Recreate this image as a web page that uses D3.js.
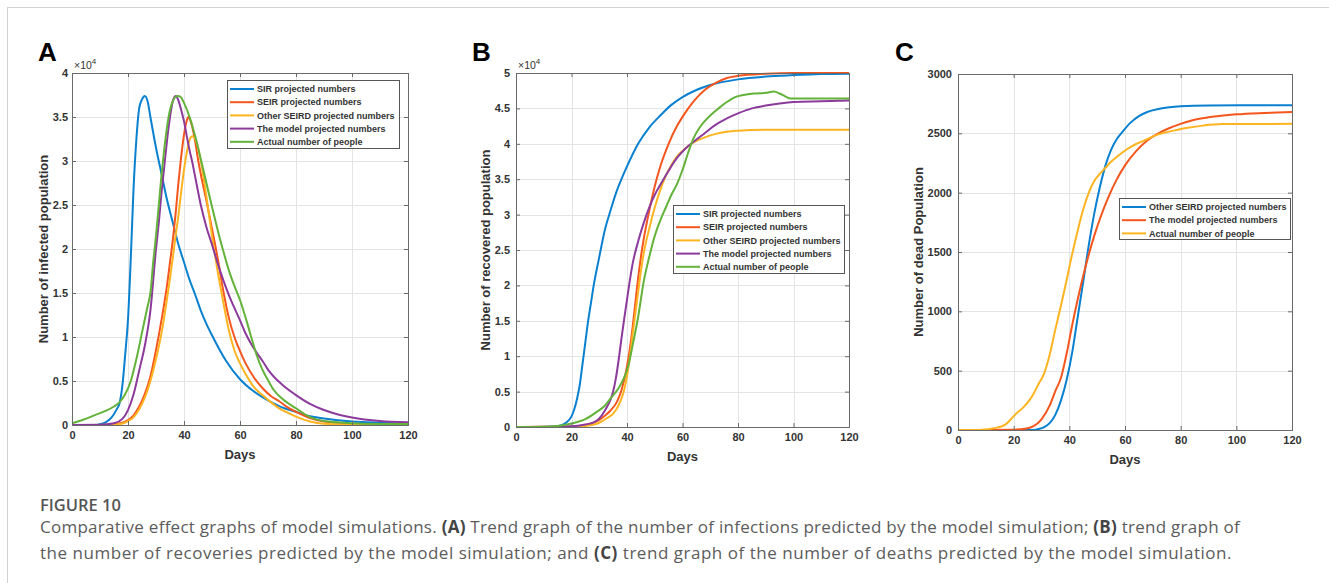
<!DOCTYPE html>
<html>
<head>
<meta charset="utf-8">
<script src="https://cdn.jsdelivr.net/npm/d3@7"></script>
<style>
  body { margin: 0; background: #fff; }
  svg { display: block; }
  .tick-label { font-family: "Liberation Sans", Arial, sans-serif; font-weight: bold; font-size: 11px; fill: #333; }
  .axis-title { font-family: "Liberation Sans", Arial, sans-serif; font-weight: bold; font-size: 13px; fill: #333; }
  .legend-text { font-family: "Liberation Sans", Arial, sans-serif; font-weight: bold; font-size: 9px; fill: #333; }
  .panel-label { font-family: "Liberation Sans", Arial, sans-serif; font-weight: bold; font-size: 26px; fill: #000; }
  .caption { font-family: "Open Sans", sans-serif; font-size: 17px; fill: #5c5c5c; }
</style>
</head>
<body>
<div id="chart"></div>
<script>
// ---- data: [day, people] ----
const days = [0, 20, 40, 60, 80, 100, 120];

// A: infected population
const aSIR = [[0,0],[8,0],[10,100],[12,300],[14,800],[16,1800],[17,2500],[18,4500],[19,8000],[20,12000],[21,19000],[22,27000],[23,32500],[24,36000],[25,37000],[26,37400],[27,36800],[28,35000],[30,31500],[32,28500],[34,25500],[36,23000],[38,20500],[40,18500],[42,16500],[44,14800],[46,13000],[48,11500],[50,10200],[55,7300],[60,5200],[65,3800],[70,2800],[75,2000],[80,1500],[85,1000],[90,750],[100,400],[110,250],[120,150]];
const aSEIR = [[0,0],[10,10],[15,80],[18,250],[20,550],[22,1100],[24,2100],[26,3500],[28,5500],[30,8500],[32,12000],[34,16000],[35,18500],[36,21000],[37,24000],[38,27500],[39,30500],[40,33000],[41,34600],[41.5,35000],[42,34800],[43,33800],[44,32200],[45,30200],[46,28500],[48,25500],[50,22300],[52,19000],[54,15300],[56,12200],[58,10000],[60,8400],[62,7000],[65,5400],[68,4200],[71,3300],[74,2700],[77,2000],[80,1500],[85,800],[90,400],[100,150],[110,60],[120,40]];
const aOther = [[0,0],[10,5],[15,50],[18,180],[20,450],[22,900],[24,1800],[26,3100],[28,5000],[30,7500],[32,10500],[34,14500],[36,19000],[37,21500],[38,23800],[39,26500],[40,29000],[41,31000],[42,32400],[43,32800],[44,32500],[45,31500],[46,30000],[48,26000],[50,21500],[52,17500],[54,14000],[56,10800],[58,8500],[60,7000],[62,5800],[65,4300],[68,3400],[71,2600],[74,1900],[77,1400],[80,950],[85,400],[90,150],[100,60],[120,20]];
const aModel = [[0,0],[10,20],[15,200],[18,700],[20,1700],[22,3500],[24,6200],[26,9000],[28,13000],[30,20000],[31,23000],[32,26500],[33,29500],[34,32500],[35,35000],[36,36800],[37,37400],[38,36900],[39,35800],[40,34500],[41,32800],[42,31200],[43,29800],[44,28200],[46,25000],[48,22500],[50,20500],[52,18400],[54,16500],[56,14800],[58,13300],[60,11900],[62,10400],[64,9200],[66,8200],[68,7300],[70,6300],[75,4600],[80,3400],[85,2400],[90,1700],[95,1200],[100,850],[110,450],[120,300]];
const aActual = [[0,200],[4,600],[8,1100],[12,1600],[15,2100],[17,2600],[19,3500],[21,5000],[23,7500],[25,10500],[27,13500],[28,15000],[29,18500],[30,21500],[31,25000],[32,28500],[33,31500],[34,34000],[35,35800],[36,36800],[37,37300],[38,37400],[39,37200],[40,36600],[42,35000],[44,32800],[46,30200],[48,27500],[50,24800],[52,22200],[54,19800],[56,17600],[58,15800],[60,14200],[62,12200],[64,10000],[66,7900],[68,6300],[70,5100],[72,4000],[75,3000],[80,1900],[85,900],[90,450],[100,200],[110,120],[120,100]];

// B: recovered population
const bSIR = [[0,0],[10,0],[15,100],[18,600],[20,1500],[21,2500],[22,4000],[23,6000],[24,9000],[25,12000],[26,15000],[27,17500],[28,20000],[30,24000],[32,27800],[34,30500],[36,33000],[38,35000],[40,36800],[44,40000],[48,42300],[52,44000],[56,45500],[60,46600],[65,47600],[70,48300],[80,49100],[90,49500],[100,49700],[110,49850],[120,49900]];
const bSEIR = [[0,0],[20,50],[25,300],[30,1000],[32,1600],[34,2300],[36,3300],[37,4100],[38,5200],[39,6700],[40,8600],[41,11000],[42,14000],[43,17500],[44,21000],[45,24000],[46,26500],[48,30500],[50,34000],[52,36800],[55,40000],[58,42500],[60,43800],[64,46000],[68,47600],[72,48600],[76,49300],[80,49600],[90,49900],[100,50000],[120,50000]];
const bOther = [[0,0],[20,20],[25,150],[30,600],[33,1300],[35,1900],[36,2400],[37,3100],[38,4000],[39,5300],[40,7200],[41,9800],[42,13000],[43,16000],[44,19000],[45,22000],[46,24500],[48,28000],[50,31000],[52,33500],[54,35500],[56,37000],[58,38200],[60,39000],[64,40200],[68,40900],[72,41400],[76,41700],[80,41850],[90,42000],[120,42000]];
const bModel = [[0,0],[20,100],[25,350],[28,650],[30,1200],[32,2300],[33,3000],[34,3800],[35,5000],[36,6900],[37,9500],[38,12500],[39,15300],[40,18000],[42,23000],[44,26200],[46,28800],[48,31000],[50,32800],[52,34200],[55,36200],[58,38000],[61,39300],[64,40300],[68,41500],[72,42700],[76,43600],[80,44300],[85,45000],[90,45400],[95,45700],[100,45900],[110,46000],[120,46100]];
const bActual = [[0,0],[10,50],[15,150],[20,500],[25,1100],[29,2100],[32,3000],[34,4000],[37,5500],[39,7000],[40.5,8700],[42,11500],[44,15500],[46,20500],[48,24000],[50,27000],[52,29200],[54,31000],[56,32800],[58,34300],[60,36300],[62,38700],[64,40800],[66,42200],[68,43200],[70,44000],[73,45000],[76,45900],[79,46600],[82,46900],[86,47100],[90,47200],[93,47400],[95,47100],[97,46700],[99,46400],[101,46400],[110,46400],[120,46400]];

// C: dead population
const cOther = [[0,0],[27,0],[29,8],[31,25],[33,60],[35,130],[37,250],[39,420],[41,650],[43,950],[45,1250],[47,1560],[49,1830],[51,2050],[53,2230],[55,2360],[57,2450],[59,2510],[62,2590],[65,2645],[68,2680],[72,2705],[76,2720],[80,2728],[90,2735],[120,2737]];
const cModel = [[0,0],[20,3],[24,10],[27,30],[30,90],[33,210],[35,330],[37,440],[39,640],[41,880],[43,1100],[45,1300],[47,1480],[49,1640],[51,1780],[54,1960],[57,2110],[60,2230],[64,2350],[68,2440],[72,2500],[76,2545],[80,2580],[85,2615],[90,2635],[100,2660],[110,2672],[120,2680]];
const cActual = [[0,0],[8,0],[10,5],[14,20],[17,45],[19,90],[21,140],[23,180],[25,230],[27,300],[29,390],[31,480],[33,640],[35,850],[37,1050],[39,1260],[41,1480],[43,1680],[45,1860],[47,2000],[49,2100],[51,2160],[53,2210],[55,2260],[58,2320],[61,2370],[64,2410],[67,2440],[70,2475],[74,2505],[78,2525],[82,2545],[88,2565],[95,2578],[120,2580]];

const names = {
  sir: "SIR projected numbers",
  seir: "SEIR projected numbers",
  other: "Other SEIRD projected numbers",
  model: "The model projected numbers",
  actual: "Actual number of people"
};
const colors = { blue: "#0a80d0", red: "#f4561e", yellow: "#fdb420", purple: "#8c3a9c", green: "#63b23a" };

const W = 1329, H = 583;
const svg = d3.select("#chart").append("svg").attr("width", W).attr("height", H);

// page frame
svg.append("line").attr("x1", 7).attr("x2", W).attr("y1", 7.5).attr("y2", 7.5).attr("stroke", "#d2d2d2");
svg.append("line").attr("x1", 7.5).attr("x2", 7.5).attr("y1", 7).attr("y2", H).attr("stroke", "#d2d2d2");

const panels = [
  {
    label: "A", lx: 38, left: 72, right: 408, top: 73, bottom: 425, ypad: 4,
    ymax: 40000, ystep: 5000, scale: 1e4, ylabel: "Number of infected population", ylx: 43,
    series: [
      { name: names.sir, color: colors.blue, data: aSIR },
      { name: names.seir, color: colors.red, data: aSEIR },
      { name: names.other, color: colors.yellow, data: aOther },
      { name: names.model, color: colors.purple, data: aModel },
      { name: names.actual, color: colors.green, data: aActual }
    ],
    legend: { x: 227, y: 80, w: 172, h: 68 }
  },
  {
    label: "B", lx: 472, left: 516, right: 849, top: 73, bottom: 427, ypad: 6,
    ymax: 50000, ystep: 5000, scale: 1e4, ylabel: "Number of recovered population", ylx: 485,
    series: [
      { name: names.sir, color: colors.blue, data: bSIR },
      { name: names.seir, color: colors.red, data: bSEIR },
      { name: names.other, color: colors.yellow, data: bOther },
      { name: names.model, color: colors.purple, data: bModel },
      { name: names.actual, color: colors.green, data: bActual }
    ],
    legend: { x: 673, y: 205, w: 171, h: 68 }
  },
  {
    label: "C", lx: 895, left: 958, right: 1292, top: 74, bottom: 430, ypad: 6,
    ymax: 3000, ystep: 500, scale: 1, ylabel: "Number of dead Population", ylx: 918,
    series: [
      { name: names.other, color: colors.blue, data: cOther },
      { name: names.model, color: colors.red, data: cModel },
      { name: names.actual, color: colors.yellow, data: cActual }
    ],
    legend: { x: 1119, y: 198, w: 171, h: 41 }
  }
];

panels.forEach((p) => {
  const x = d3.scaleLinear().domain([0, 120]).range([p.left, p.right]);
  const y = d3.scaleLinear().domain([0, p.ymax]).range([p.bottom, p.top]);
  const yTicks = d3.range(0, p.ymax + 1, p.ystep);
  const g = svg.append("g");

  // grid
  g.selectAll(".gx").data(days).enter().append("line")
    .attr("x1", (d) => Math.round(x(d)) + 0.5).attr("x2", (d) => Math.round(x(d)) + 0.5)
    .attr("y1", p.top).attr("y2", p.bottom)
    .attr("stroke", "#e4e4e4");
  g.selectAll(".gy").data(yTicks).enter().append("line")
    .attr("y1", (d) => Math.round(y(d)) + 0.5).attr("y2", (d) => Math.round(y(d)) + 0.5)
    .attr("x1", p.left).attr("x2", p.right)
    .attr("stroke", "#e4e4e4");

  // lines
  const line = d3.line()
    .x((d) => x(d[0]))
    .y((d) => y(d[1]))
    .curve(d3.curveMonotoneX);
  p.series.forEach((s) => {
    g.append("path").datum(s.data)
      .attr("fill", "none").attr("stroke", s.color)
      .attr("stroke-width", 2).attr("stroke-linejoin", "round")
      .attr("d", line);
  });

  // axes (matlab-like box, ticks inside on all four sides)
  const fmt = (d) => String(+(d / p.scale).toFixed(2));
  const axB = g.append("g").attr("transform", `translate(0,${p.bottom})`)
    .call(d3.axisBottom(x).tickValues(days).tickSize(-4).tickPadding(6).tickFormat(d3.format("d")));
  const axT = g.append("g").attr("transform", `translate(0,${p.top})`)
    .call(d3.axisTop(x).tickValues(days).tickSize(-4).tickFormat(""));
  const axL = g.append("g").attr("transform", `translate(${p.left},0)`)
    .call(d3.axisLeft(y).tickValues(yTicks).tickSize(-4).tickPadding(p.ypad).tickFormat(fmt));
  const axR = g.append("g").attr("transform", `translate(${p.right},0)`)
    .call(d3.axisRight(y).tickValues(yTicks).tickSize(-4).tickFormat(""));
  [axB, axT, axL, axR].forEach((a) => {
    a.select(".domain").attr("stroke", "#6a6a6a");
    a.selectAll(".tick line").attr("stroke", "#6a6a6a");
    a.selectAll(".tick text").attr("class", "tick-label").attr("fill", null);
  });

  // exponent label
  if (p.scale !== 1) {
    const t = g.append("text").attr("class", "legend-text").attr("x", p.left + 2).attr("y", p.top - 4)
      .style("font-weight", "normal").style("font-size", "10.5px");
    t.append("tspan").text("\u00d710");
    t.append("tspan").attr("dy", -5).style("font-size", "8px").text("4");
  }

  // axis titles
  g.append("text").attr("class", "axis-title")
    .attr("x", (p.left + p.right) / 2).attr("y", p.bottom + 34)
    .attr("text-anchor", "middle").text("Days");
  g.append("text").attr("class", "axis-title")
    .attr("transform", `translate(${p.ylx},${(p.top + p.bottom) / 2}) rotate(-90)`)
    .attr("text-anchor", "middle").attr("dy", "0.35em").text(p.ylabel);

  // panel letter
  svg.append("text").attr("class", "panel-label").attr("x", p.lx).attr("y", 61).text(p.label);

  // legend
  const L = p.legend;
  const lg = g.append("g").attr("transform", `translate(${L.x},${L.y})`);
  lg.append("rect").attr("x", 0.5).attr("y", 0.5).attr("width", L.w).attr("height", L.h)
    .attr("fill", "#fff").attr("stroke", "#555");
  p.series.forEach((s, i) => {
    const yy = 9 + i * 13.2;
    lg.append("line").attr("x1", 3).attr("x2", 27).attr("y1", yy).attr("y2", yy)
      .attr("stroke", s.color).attr("stroke-width", 2);
    lg.append("text").attr("class", "legend-text").attr("x", 30).attr("y", yy).attr("dy", "0.35em").text(s.name);
  });
});

// caption
svg.append("text").attr("x", 40).attr("y", 511)
  .style("font-family", "'Open Sans', sans-serif").style("font-size", "16.5px")
  .style("font-weight", 600).attr("fill", "#555").text("FIGURE 10");

const capLines = [
  [["Comparative effect graphs of model simulations. ", false], ["(A)", true], [" Trend graph of the number of infections predicted by the model simulation; ", false], ["(B)", true], [" trend graph of", false]],
  [["the number of recoveries predicted by the model simulation; and ", false], ["(C)", true], [" trend graph of the number of deaths predicted by the model simulation.", false]]
];
const capWidths = [1200, 1192];
capLines.forEach((parts, i) => {
  const t = svg.append("text").attr("class", "caption").attr("x", 40).attr("y", 533 + i * 26);
  parts.forEach(([txt, bold]) => {
    t.append("tspan").style("font-weight", bold ? "bold" : "normal").attr("fill", bold ? "#444" : null).text(txt);
  });
  // stretch spacing so each line spans the same width as in the figure
  const len = t.node().getComputedTextLength();
  const n = parts.map((d) => d[0]).join("").length;
  t.style("letter-spacing", ((capWidths[i] - len) / n) + "px");
});
</script>
</body>
</html>
